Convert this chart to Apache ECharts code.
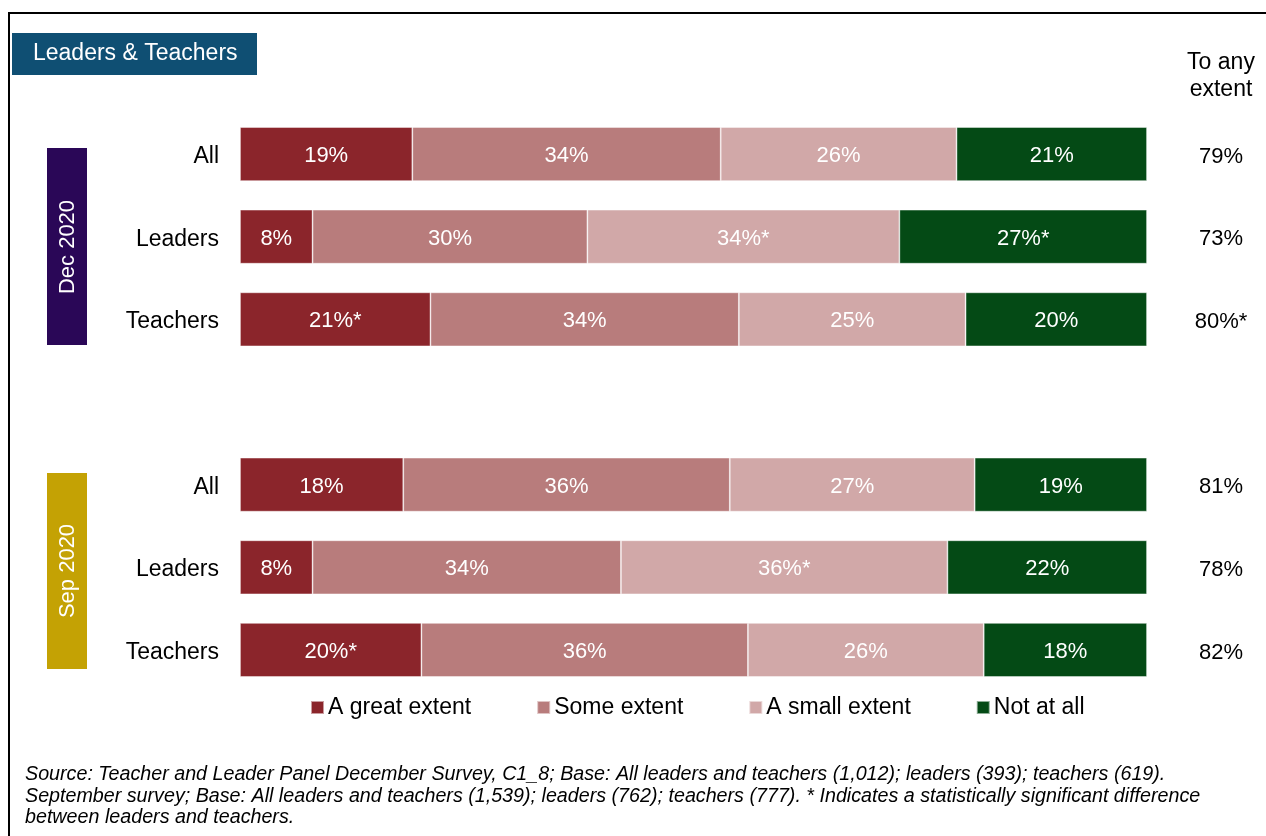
<!DOCTYPE html>
<html>
<head>
<meta charset="utf-8">
<script src="https://cdn.jsdelivr.net/npm/echarts@6/dist/echarts.min.js"></script>
<style>
html,body{margin:0;padding:0;background:#fff;}
#chart{width:1266px;height:836px;}
</style>
</head>
<body>
<div id="chart"></div>
<script>
// Row categories (blank slot separates the two survey waves)
const categories = ['All', 'Leaders', 'Teachers', '', 'All', 'Leaders', 'Teachers'];
const seriesNames = ['A great extent', 'Some extent', 'A small extent', 'Not at all'];
// Values (percent)
const greatExtent = [19, 8, 21, null, 18, 8, 20];
const someExtent  = [34, 30.3, 34, null, 36, 34, 36];
const smallExtent = [26, 34.4, 25, null, 27, 36, 26];
const notAtAll    = [21, 27.3, 20, null, 19, 22, 18];
// Displayed labels
const greatLabels = ['19%', '8%', '21%*', '', '18%', '8%', '20%*'];
const someLabels  = ['34%', '30%', '34%', '', '36%', '34%', '36%'];
const smallLabels = ['26%', '34%*', '25%', '', '27%', '36%*', '26%'];
const notLabels   = ['21%', '27%*', '20%', '', '19%', '22%', '18%'];
const anyExtent   = ['79%', '73%', '80%*', '', '81%', '78%', '82%'];
const colors = ['#8B252B', '#B87C7C', '#D1A8A8', '#044A15'];
const waves = ['Dec 2020', 'Sep 2020'];
const footnote = 'Source: Teacher and Leader Panel December Survey, C1_8; Base: All leaders and teachers (1,012); leaders (393); teachers (619).\nSeptember survey; Base: All leaders and teachers (1,539); leaders (762); teachers (777). * Indicates a statistically significant difference\nbetween leaders and teachers.';

const FONT = '"Liberation Sans", Arial, sans-serif';
const values = [greatExtent, someExtent, smallExtent, notAtAll];
const labels = [greatLabels, someLabels, smallLabels, notLabels];

const chart = echarts.init(document.getElementById('chart'), null, {renderer: 'canvas'});
chart.setOption({
  animation: false,
  backgroundColor: '#fff',
  textStyle: {fontFamily: FONT},
  grid: {left: 240, right: 119, top: 112.7, bottom: 144.7},
  xAxis: {type: 'value', min: 0, max: 100, show: false},
  yAxis: [
    {
      type: 'category', data: categories, inverse: true,
      axisLine: {show: false}, axisTick: {show: false}, splitLine: {show: false},
      axisLabel: {
        margin: 21, color: '#000', fontSize: 23, fontFamily: FONT,
        formatter: v => v ? '{a|' + v + '}' : '',
        rich: {a: {fontSize: 23, fontFamily: FONT, color: '#000', padding: [5, 0, 0, 0]}}
      }
    },
    {
      type: 'category', data: anyExtent, inverse: true, position: 'right',
      axisLine: {show: false}, axisTick: {show: false}, splitLine: {show: false},
      axisLabel: {
        margin: 74, align: 'center', color: '#000', fontSize: 22, fontFamily: FONT,
        formatter: v => v ? '{a|' + v + '}' : '',
        rich: {a: {fontSize: 22, fontFamily: FONT, color: '#000', padding: [5, 0, 0, 0]}}
      }
    }
  ],
  legend: {
    left: 305, top: 691,
    itemWidth: 13, itemHeight: 13, itemGap: 65,
    icon: 'rect',
    textStyle: {fontSize: 23, color: '#000', fontFamily: FONT, padding: [0, 0, 0, -1]},
    data: seriesNames
  },
  series: seriesNames.map((name, i) => ({
    name: name,
    type: 'bar',
    stack: 'total',
    barWidth: 54,
    data: values[i],
    itemStyle: {color: colors[i], borderColor: 'rgba(255,255,255,0.55)', borderWidth: 0.8},
    label: {
      show: true, position: 'inside', color: '#fff', fontSize: 22, fontFamily: FONT,
      offset: [0, 2],
      formatter: p => labels[i][p.dataIndex]
    }
  })),
  graphic: [
    {type: 'rect', shape: {x: 9, y: 13, width: 1400, height: 1000}, style: {fill: 'none', stroke: '#000', lineWidth: 2}, silent: true},
    {type: 'rect', shape: {x: 12, y: 33, width: 245, height: 42}, style: {fill: '#0F4F73'}},
    {type: 'text', x: 33, y: 54, style: {text: 'Leaders & Teachers', fill: '#fff', font: '23px ' + FONT, textVerticalAlign: 'middle', textAlign: 'left'}},
    {type: 'rect', shape: {x: 47, y: 148, width: 40, height: 197}, style: {fill: '#2A0757'}},
    {type: 'text', x: 68, y: 247, rotation: Math.PI / 2, style: {text: waves[0], fill: '#fff', font: '22px ' + FONT, textAlign: 'center', textVerticalAlign: 'middle'}},
    {type: 'rect', shape: {x: 47, y: 473, width: 40, height: 196}, style: {fill: '#C4A204'}},
    {type: 'text', x: 68, y: 571, rotation: Math.PI / 2, style: {text: waves[1], fill: '#fff', font: '22px ' + FONT, textAlign: 'center', textVerticalAlign: 'middle'}},
    {type: 'text', x: 1221, y: 49, style: {text: 'To any\nextent', fill: '#000', font: '23px ' + FONT, textAlign: 'center', lineHeight: 27}},
    {type: 'text', x: 25, y: 764, style: {text: footnote, fill: '#000', font: 'italic 19.7px ' + FONT, textAlign: 'left', lineHeight: 21.5}}
  ]
});
</script>
</body>
</html>
